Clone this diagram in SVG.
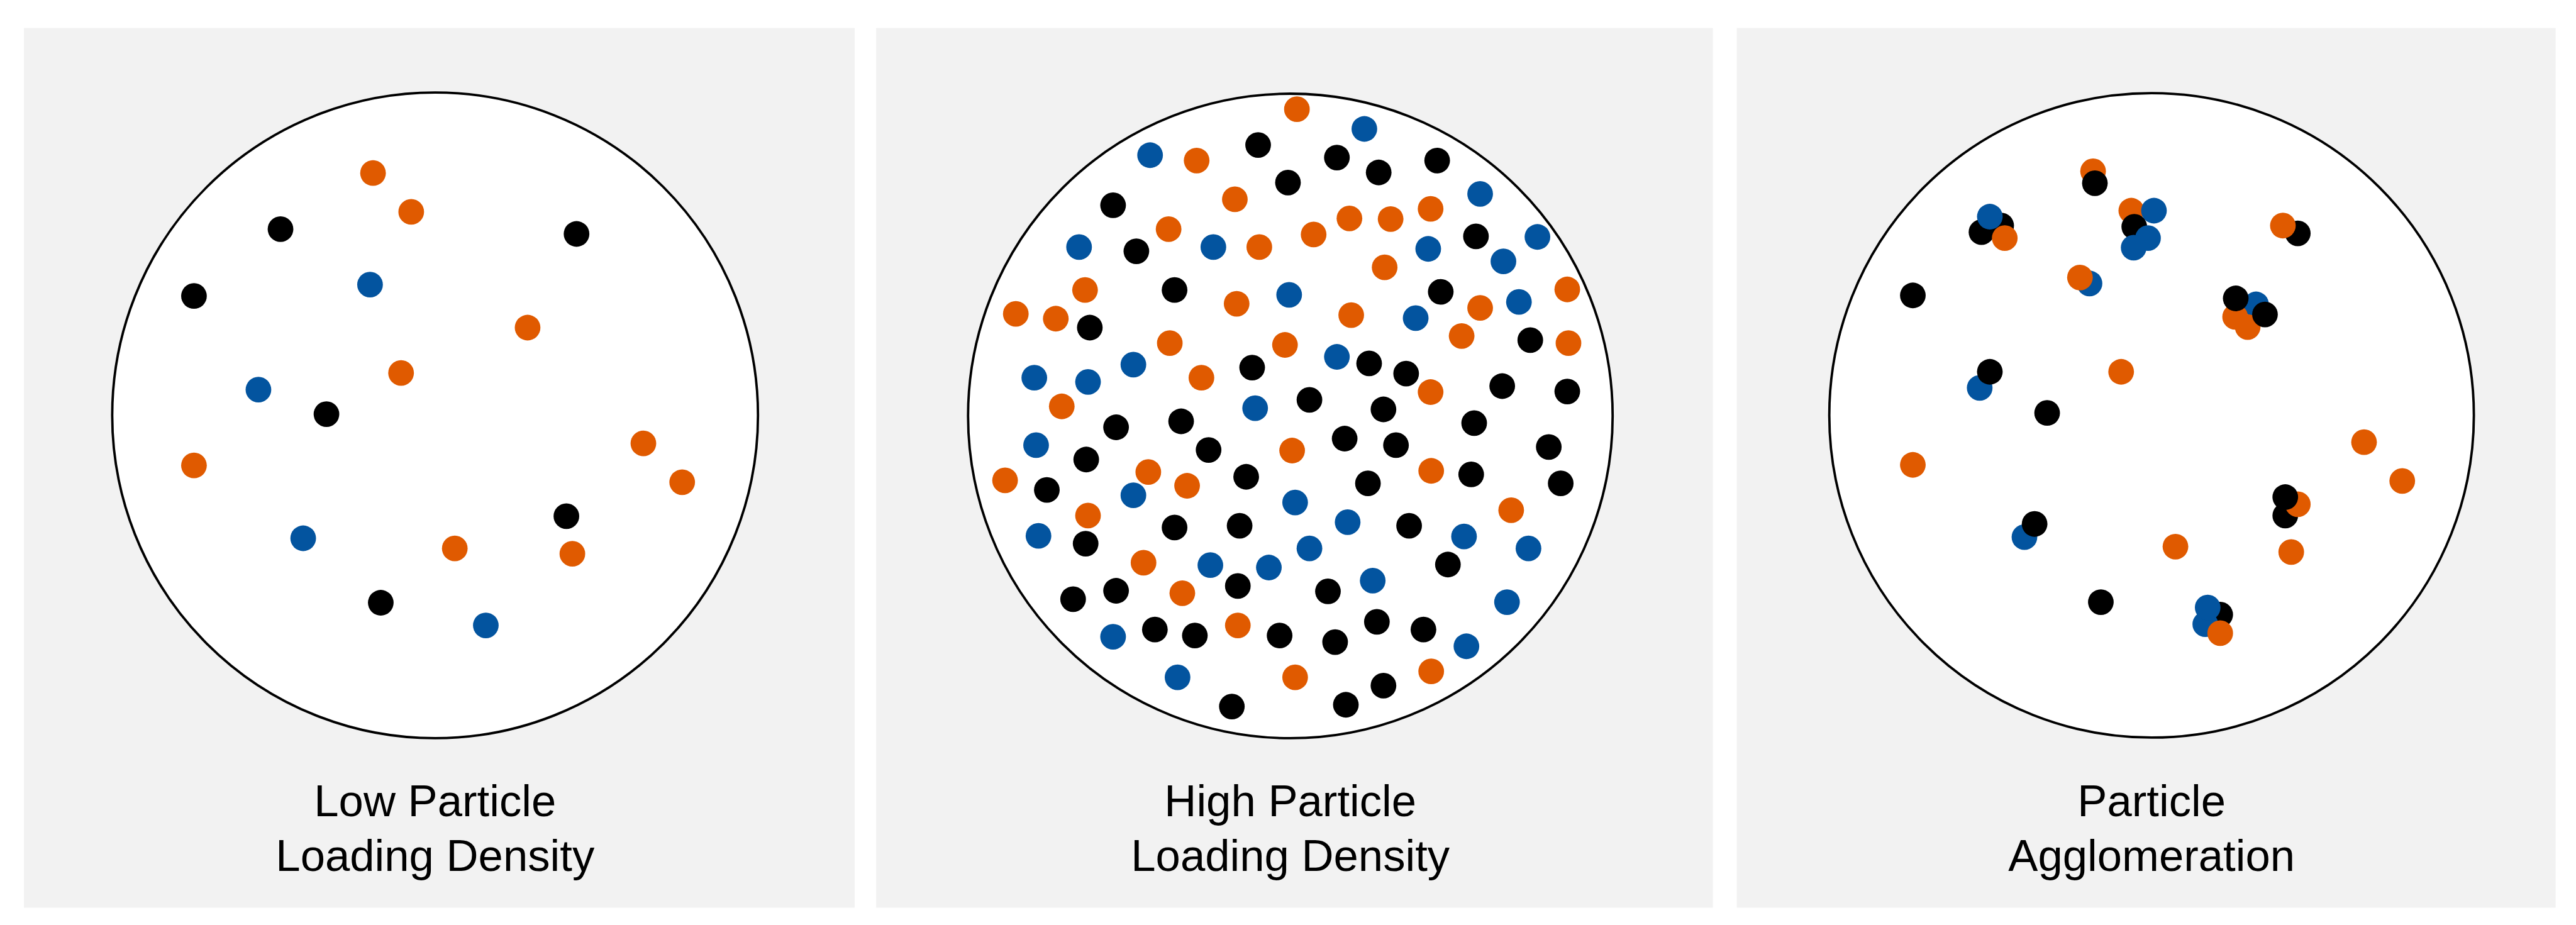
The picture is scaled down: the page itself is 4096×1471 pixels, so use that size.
<svg xmlns="http://www.w3.org/2000/svg" width="4096" height="1471" viewBox="0 0 4096 1471">
<defs>
<style>
.panel{fill:#f2f2f2}
.dish{fill:#fff;stroke:#000;stroke-width:4}
.lbl{font-family:"Liberation Sans",Arial,sans-serif;font-size:74.5px;fill:#000;text-anchor:middle}
</style>
<circle id="o" r="21.5" fill="#e05a00"/>
<circle id="k" r="21.5" fill="#000000"/>
<circle id="b" r="21.5" fill="#03549f"/>
</defs>
<rect width="4096" height="1471" fill="#ffffff"/>
<g transform="scale(0.949)">
<g id="panel-low">
<rect class="panel" x="40" y="47" width="1392" height="1474"/>
<circle class="dish" cx="729" cy="696" r="541"/>
<g id="low-particles">
<use href="#o" x="625" y="290"/><use href="#o" x="689" y="355"/><use href="#o" x="884" y="549"/><use href="#o" x="672" y="625"/><use href="#o" x="1078" y="743"/><use href="#o" x="325" y="780"/><use href="#o" x="1143" y="808"/><use href="#o" x="762" y="919"/><use href="#o" x="959" y="928"/>
<use href="#k" x="470" y="384"/><use href="#k" x="966" y="392"/><use href="#k" x="325" y="496"/><use href="#k" x="547" y="694"/><use href="#k" x="949" y="865"/><use href="#k" x="638" y="1010"/>
<use href="#b" x="620" y="477"/><use href="#b" x="433" y="653"/><use href="#b" x="508" y="902"/><use href="#b" x="814" y="1048"/>
</g>
<text class="lbl" x="729" y="1368">Low Particle</text>
<text class="lbl" x="729" y="1459">Loading Density</text>
</g>
<g id="panel-high">
<rect class="panel" x="1468" y="47" width="1402" height="1474"/>
<circle class="dish" cx="2162" cy="697" r="540"/>
<g id="high-particles">
<use href="#o" x="2173" y="183"/><use href="#o" x="2005" y="269"/><use href="#o" x="2069" y="334"/><use href="#o" x="1958" y="384"/><use href="#o" x="2110" y="414"/><use href="#o" x="1818" y="486"/><use href="#o" x="2072" y="509"/><use href="#o" x="1702" y="526"/><use href="#o" x="1769" y="534"/><use href="#o" x="1960" y="575"/><use href="#o" x="2153" y="578"/><use href="#o" x="2013" y="633"/><use href="#o" x="1779" y="681"/>
<use href="#o" x="2397" y="350"/><use href="#o" x="2261" y="366"/><use href="#o" x="2330" y="367"/><use href="#o" x="2201" y="393"/><use href="#o" x="2320" y="448"/><use href="#o" x="2626" y="485"/><use href="#o" x="2480" y="516"/><use href="#o" x="2264" y="528"/><use href="#o" x="2449" y="563"/><use href="#o" x="2628" y="575"/><use href="#o" x="2397" y="657"/>
<use href="#o" x="2165" y="755"/><use href="#o" x="1924" y="791"/><use href="#o" x="1684" y="805"/><use href="#o" x="1989" y="814"/><use href="#o" x="1823" y="864"/><use href="#o" x="1916" y="943"/><use href="#o" x="1981" y="994"/><use href="#o" x="2074" y="1048"/><use href="#o" x="2170" y="1135"/>
<use href="#o" x="2398" y="789"/><use href="#o" x="2532" y="855"/><use href="#o" x="2398" y="1125"/>
<use href="#k" x="2108" y="243"/><use href="#k" x="2158" y="306"/><use href="#k" x="1865" y="344"/><use href="#k" x="1904" y="421"/><use href="#k" x="1968" y="486"/><use href="#k" x="1826" y="549"/><use href="#k" x="2098" y="616"/><use href="#k" x="1870" y="716"/><use href="#k" x="1979" y="706"/>
<use href="#k" x="2240" y="264"/><use href="#k" x="2310" y="289"/><use href="#k" x="2408" y="269"/><use href="#k" x="2473" y="396"/><use href="#k" x="2414" y="489"/><use href="#k" x="2564" y="570"/><use href="#k" x="2294" y="609"/><use href="#k" x="2356" y="626"/><use href="#k" x="2517" y="647"/><use href="#k" x="2626" y="656"/><use href="#k" x="2194" y="670"/><use href="#k" x="2318" y="686"/><use href="#k" x="2470" y="709"/><use href="#k" x="2253" y="735"/>
<use href="#k" x="2025" y="754"/><use href="#k" x="1820" y="770"/><use href="#k" x="2088" y="799"/><use href="#k" x="1754" y="821"/><use href="#k" x="1968" y="884"/><use href="#k" x="2077" y="881"/><use href="#k" x="1819" y="911"/><use href="#k" x="1798" y="1004"/><use href="#k" x="1870" y="990"/><use href="#k" x="2074" y="982"/><use href="#k" x="1935" y="1055"/><use href="#k" x="2002" y="1065"/><use href="#k" x="2144" y="1065"/><use href="#k" x="2064" y="1184"/>
<use href="#k" x="2339" y="746"/><use href="#k" x="2595" y="749"/><use href="#k" x="2465" y="795"/><use href="#k" x="2292" y="810"/><use href="#k" x="2615" y="810"/><use href="#k" x="2361" y="881"/><use href="#k" x="2426" y="946"/><use href="#k" x="2225" y="991"/><use href="#k" x="2307" y="1042"/><use href="#k" x="2385" y="1055"/><use href="#k" x="2237" y="1076"/><use href="#k" x="2318" y="1149"/><use href="#k" x="2255" y="1181"/>
<use href="#b" x="1927" y="260"/><use href="#b" x="1808" y="414"/><use href="#b" x="2033" y="414"/><use href="#b" x="2160" y="494"/><use href="#b" x="1899" y="611"/><use href="#b" x="1733" y="633"/><use href="#b" x="1823" y="640"/><use href="#b" x="2103" y="684"/>
<use href="#b" x="2286" y="216"/><use href="#b" x="2480" y="325"/><use href="#b" x="2576" y="397"/><use href="#b" x="2393" y="417"/><use href="#b" x="2519" y="438"/><use href="#b" x="2545" y="506"/><use href="#b" x="2372" y="533"/><use href="#b" x="2240" y="598"/>
<use href="#b" x="1736" y="746"/><use href="#b" x="1899" y="830"/><use href="#b" x="2170" y="842"/><use href="#b" x="1740" y="898"/><use href="#b" x="2028" y="947"/><use href="#b" x="2126" y="951"/><use href="#b" x="1865" y="1067"/><use href="#b" x="1973" y="1135"/>
<use href="#b" x="2258" y="875"/><use href="#b" x="2453" y="899"/><use href="#b" x="2194" y="919"/><use href="#b" x="2561" y="919"/><use href="#b" x="2300" y="973"/><use href="#b" x="2525" y="1009"/><use href="#b" x="2457" y="1083"/>
</g>
<text class="lbl" x="2162" y="1368">High Particle</text>
<text class="lbl" x="2162" y="1459">Loading Density</text>
</g>
<g id="panel-agglomeration">
<rect class="panel" x="2910" y="47" width="1372" height="1474"/>
<circle class="dish" cx="3605" cy="696" r="540"/>
<g id="agglomerated-particles">
<use href="#o" x="3507" y="287"/><use href="#k" x="3510" y="307"/>
<use href="#k" x="3353" y="378"/><use href="#k" x="3320" y="389"/><use href="#b" x="3334" y="363"/><use href="#o" x="3359" y="399"/>
<use href="#o" x="3571" y="353"/><use href="#b" x="3609" y="353"/><use href="#k" x="3576" y="380"/><use href="#b" x="3599" y="399"/><use href="#b" x="3575" y="415"/>
<use href="#k" x="3850" y="391"/><use href="#o" x="3825" y="378"/>
<use href="#b" x="3501" y="475"/><use href="#o" x="3485" y="465"/>
<use href="#k" x="3205" y="495"/>
<use href="#b" x="3780" y="510"/><use href="#o" x="3745" y="531"/><use href="#o" x="3766" y="548"/><use href="#k" x="3746" y="500"/><use href="#k" x="3795" y="527"/>
<use href="#b" x="3317" y="650"/><use href="#k" x="3334" y="623"/>
<use href="#o" x="3554" y="623"/><use href="#k" x="3430" y="692"/>
<use href="#o" x="3961" y="741"/><use href="#o" x="3205" y="779"/><use href="#o" x="4025" y="806"/>
<use href="#k" x="3829" y="864"/><use href="#o" x="3850" y="845"/><use href="#k" x="3829" y="833"/>
<use href="#b" x="3392" y="900"/><use href="#k" x="3409" y="878"/>
<use href="#o" x="3645" y="916"/><use href="#o" x="3839" y="925"/><use href="#k" x="3520" y="1009"/>
<use href="#k" x="3720" y="1030"/><use href="#b" x="3695" y="1046"/><use href="#b" x="3699" y="1018"/><use href="#o" x="3720" y="1061"/>
</g>
<text class="lbl" x="3605" y="1368">Particle</text>
<text class="lbl" x="3605" y="1459">Agglomeration</text>
</g>
</g>
</svg>
